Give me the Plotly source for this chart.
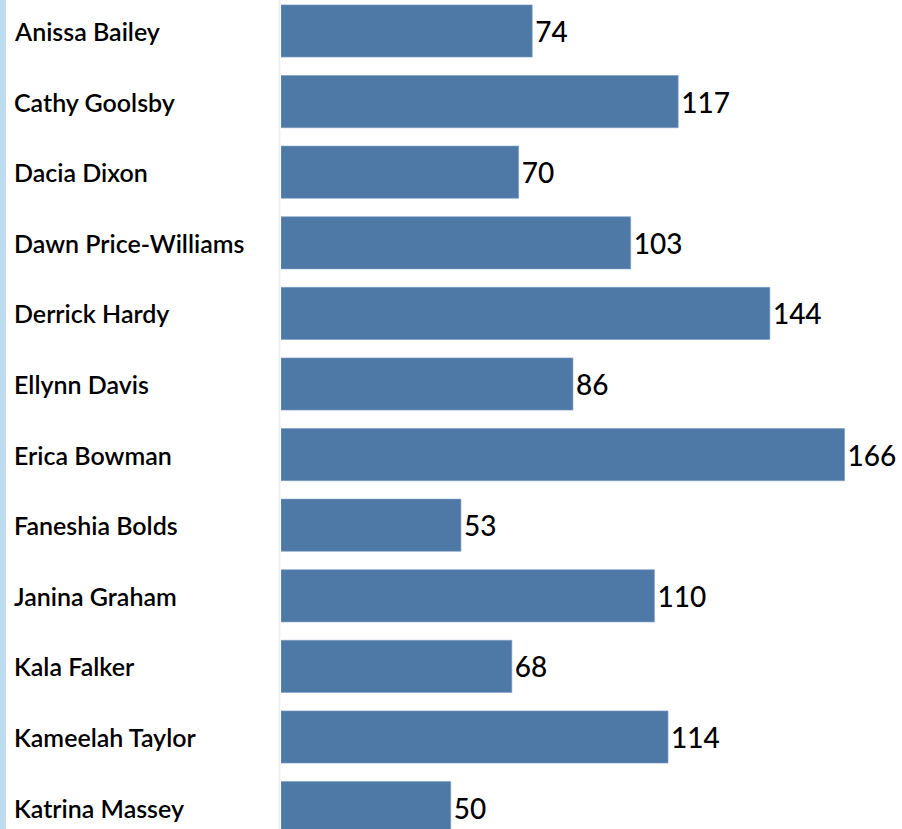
import plotly.graph_objects as go

names = ["Anissa Bailey", "Cathy Goolsby", "Dacia Dixon", "Dawn Price-Williams",
         "Derrick Hardy", "Ellynn Davis", "Erica Bowman", "Faneshia Bolds",
         "Janina Graham", "Kala Falker", "Kameelah Taylor", "Katrina Massey"]
values = [74, 117, 70, 103, 144, 86, 166, 53, 110, 68, 114, 50]

W, H = 902, 829
ML = 281
PW = W - ML
FONT = "Lato, DejaVu Sans Condensed, sans-serif"

fig = go.Figure()
fig.add_trace(go.Bar(
    x=values, y=names, orientation="h",
    marker=dict(color="#4e79a7", line=dict(color="#7f9fc4", width=0.6)),
    text=[str(v) for v in values], textposition="outside",
    textfont=dict(family=FONT, size=28, color="#000000", weight=500),
    cliponaxis=False, hoverinfo="skip",
))

for n in names:
    fig.add_annotation(x=(12 - ML) / PW, xref="paper", y=n, yref="y",
                       text=n, showarrow=False, xanchor="left", yanchor="middle",
                       font=dict(family=FONT, size=25, color="#000000", weight=600))

# left light-blue strip and divider line
fig.add_shape(type="rect", xref="paper", yref="paper",
              x0=-ML / PW, x1=(6 - ML) / PW, y0=0, y1=1,
              fillcolor="#bcdcf0", line=dict(width=0), layer="below")
fig.add_shape(type="line", xref="paper", yref="paper",
              x0=-1.5 / PW, x1=-1.5 / PW, y0=0, y1=1,
              line=dict(color="#ececec", width=1.5), layer="below")

pitch = 70.6
top = -31 / pitch
bottom = top + H / pitch
fig.update_layout(
    width=W, height=H,
    margin=dict(l=ML, r=0, t=0, b=0, pad=0),
    paper_bgcolor="white", plot_bgcolor="white",
    bargap=0.26, showlegend=False,
    xaxis=dict(range=[0, PW / 3.395], visible=False, fixedrange=True),
    yaxis=dict(range=[bottom, top], showticklabels=False, showgrid=False,
               zeroline=False, showline=False, ticks="", fixedrange=True,
               categoryorder="array", categoryarray=names),
)

fig.write_html("out.html", config={"displayModeBar": False},
               post_script="document.body.style.margin='0';document.body.style.overflow='hidden';")
